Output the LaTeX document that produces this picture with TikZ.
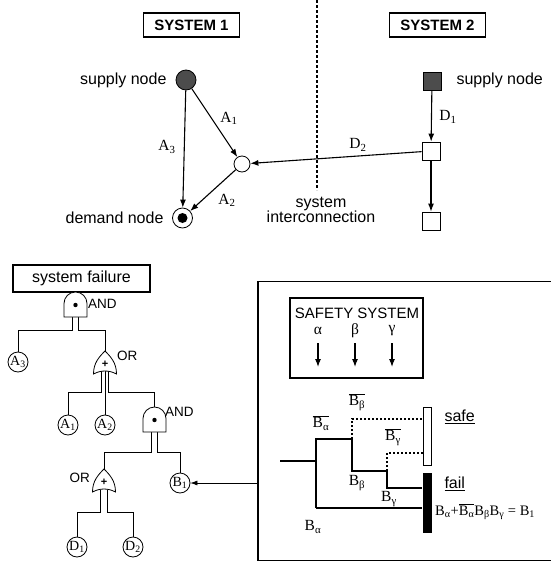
\documentclass[tikz,border=0pt]{standalone}
\usepackage{fontspec}
\setmainfont{Liberation Sans}
\newfontfamily\timesfont{Liberation Serif}
\usetikzlibrary{positioning,arrows.meta}

\newcommand{\lo}[1]{\textsubscript{#1}}
\newcommand{\nt}[1]{$\overline{\mbox{#1}}$}

\tikzset{
  andgate/.pic={
    \draw[thick,fill=white] (-11.5,0) -- (-11.5,-13.5) arc[start angle=180,end angle=360,radius=11.5] -- (11.5,0) -- cycle;
    \fill (0,-12) circle (2.2);
    \coordinate (-top) at (0,-25);
  },
  orgate/.pic={
    \draw[thick,fill=white] (-11.5,0) .. controls (-4,-4) and (4,-4) .. (11.5,0)
      .. controls (11.5,-11) and (6,-17) .. (0,-23)
      .. controls (-6,-17) and (-11.5,-11) .. (-11.5,0) -- cycle;
    \node[font=\bfseries\fontsize{11}{11}\selectfont,inner sep=0] at (0,-10) {+};
    \coordinate (-top) at (0,-23);
  }
}

\begin{document}
\begin{tikzpicture}[x=1pt,y=-1pt,
  txt/.style={font=\fontsize{16}{18}\selectfont},
  sym/.style={font=\timesfont\fontsize{15.5}{17}\selectfont,inner sep=1pt},
  sysbox/.style={draw,line width=1.3pt,minimum width=96pt,minimum height=24pt,inner sep=0pt,font=\fontsize{15}{17}\selectfont\bfseries},
  flow/.style={line width=1.1pt,-{Latex[length=8pt,width=6pt]}},
  wire/.style={thick},
  event/.style={circle,draw,thick,fill=white,minimum size=20pt,inner sep=0pt,font=\timesfont\fontsize{14}{14}\selectfont},
  gatelbl/.style={font=\fontsize{13.5}{14}\selectfont,inner sep=1pt},
  branch/.style={line width=1.5pt},
  dotbranch/.style={line width=1.5pt,dash pattern=on 2pt off 2pt}]
\useasboundingbox (0,0) rectangle (550,565);

% the two systems
\node[sysbox] (sys1) at (191.5,25) {SYSTEM 1};
\node[sysbox] (sys2) at (437.5,25) {SYSTEM 2};
\coordinate (cuttop) at (317,0);
\coordinate (cutbot) at (317,190);
\draw[line width=1.3pt,dash pattern=on 3pt off 2pt] (cuttop) -- (cutbot);
\node[txt,align=center] (inter) at (321,210) {system\\[-3pt]interconnection};

\node[circle,draw,thick,fill=black!70,minimum size=20pt,inner sep=0] (sup1) at (186,80) {};
\node[circle,draw,thick,fill=white,minimum size=16pt,inner sep=0] (mid) at (242,164) {};
\node[circle,draw,thick,fill=white,minimum size=20pt,inner sep=0] (dem) at (182.5,218) {};
\fill (dem) circle (5);
\node[txt,anchor=east] (lsup1) at (170,80) {supply node};
\node[txt,anchor=east] (ldem) at (167,218) {demand node};
\draw[flow] (sup1) -- (dem);
\draw[flow] (sup1) -- (mid);
\draw[flow] (mid) -- (dem);
\node[sym] (la1) at (229,118) {A\lo{1}};
\node[sym] (la3) at (167,147) {A\lo{3}};
\node[sym] (la2) at (227,200) {A\lo{2}};

\node[draw,thick,fill=black!70,minimum size=18pt,inner sep=0] (sup2) at (432,81) {};
\node[draw,thick,fill=white,minimum size=18pt,inner sep=0] (sq2) at (431,151) {};
\node[draw,thick,fill=white,minimum size=18pt,inner sep=0] (sq3) at (431,221) {};
\node[txt,anchor=west] (lsup2) at (453,80) {supply node};
\draw[flow] (sup2) -- (sq2);
\draw[flow] (sq2) -- (sq3);
\draw[flow] (sq2) -- (mid);
\node[sym] (ld1) at (448,117) {D\lo{1}};
\node[sym] (ld2) at (358,145) {D\lo{2}};

% fault tree
\node[draw,line width=1.2pt,minimum width=137pt,minimum height=27pt,inner sep=0,txt] (sysfail) at (81.5,278.5) {system failure};
\node[event] (a3) at (18,362) {A\lo{3}};
\node[event] (a1) at (68,425) {A\lo{1}};
\node[event] (a2) at (105,425) {A\lo{2}};
\node[event] (b1) at (180,483) {B\lo{1}};
\node[event] (d1) at (77,547) {D\lo{1}};
\node[event] (d2) at (133,547) {D\lo{2}};

\draw[wire] (75.5,317) ++(-3,0) -- ++(0,13) -| (a3);
\draw[wire] (75.5,317) ++(3,0) -- ++(0,13) -| (105,351);
\draw[wire] (105,371.4) ++(-3.3,0) -- ++(0,21) -| (a1);
\draw[wire] (105,371) -- (a2);
\draw[wire] (105,371.4) ++(3.3,0) -- ++(0,21) -| (154.5,407);
\draw[wire] (154.5,432) ++(-3,0) -- ++(0,20) -| (104,469);
\draw[wire] (154.5,432) ++(3,0) -- ++(0,20) -| (b1);
\draw[wire] (104,490.4) ++(-3.3,0) -- ++(0,22) -| (d1);
\draw[wire] (104,490.4) ++(3.3,0) -- ++(0,22) -| (d2);

\pic (g1) at (75.5,317) {andgate};
\pic (o1) at (105,374) {orgate};
\pic (g2) at (154.5,432) {andgate};
\pic (o2) at (104,492) {orgate};
\node[gatelbl,anchor=west] (lg1) at (87,304) {AND};
\node[gatelbl,anchor=west] (lo1) at (116,356) {OR};
\node[gatelbl,anchor=west] (lg2) at (164,412) {AND};
\node[gatelbl,anchor=east] (lo2) at (91,478) {OR};

% event tree of the safety system
\node[draw,line width=1.2pt,minimum width=302pt,minimum height=279pt,inner sep=0] (etbox) at (409,421) {};
\draw[semithick,-{Latex[length=7pt,width=5pt]}] (etbox.west |- b1) -- (b1);

\node[draw,line width=1.2pt,minimum width=133pt,minimum height=80pt,inner sep=0] (safety) at (356.5,338) {};
\node[font=\fontsize{15}{17}\selectfont] (stitle) at (357,313) {SAFETY SYSTEM};
\node[sym] (al) at (318,331) {α};
\node[sym] (be) at (355,331) {β};
\node[sym] (ga) at (392,331) {γ};
\draw[flow] (al) ++(0,12) -- ++(0,24);
\draw[flow] (be) ++(0,12) -- ++(0,24);
\draw[flow] (ga) ++(0,12) -- ++(0,24);

\node[draw,thick,fill=white,minimum width=8pt,minimum height=58pt,inner sep=0] (safebar) at (427,436) {};
\node[fill=black,minimum width=9pt,minimum height=60pt,inner sep=0] (failbar) at (427,503) {};

\coordinate (root) at (280,461);
\coordinate (split) at (316,461);
\coordinate (ua) at (316,439);
\coordinate (la) at (316,508);
\coordinate (ub) at (352,439);
\coordinate (sb) at (352,419);
\coordinate (fb) at (352,471);
\coordinate (gc) at (387,471);
\coordinate (sc) at (387,453);
\coordinate (fc) at (387,488);

\draw[branch] (root) -- (split);
\draw[branch] (la) -- (ua) -- (ub) -- (fb) -- (gc) -- (fc) -- (fc -| failbar.west);
\draw[branch] (la) -- (la -| failbar.west);
\draw[dotbranch] (ub) -- (sb) -- (sb -| safebar.west);
\draw[dotbranch] (gc) -- (sc) -- (sc -| safebar.west);

\node[sym] (nba) at (321,423) {\nt{B\lo{α}}};
\node[sym] (nbb) at (357,402) {\nt{B\lo{β}}};
\node[sym] (nbg) at (393,437) {\nt{B\lo{γ}}};
\node[sym] (bb) at (357,483) {B\lo{β}};
\node[sym] (bg) at (389,499) {B\lo{γ}};
\node[sym] (ba) at (313,527) {B\lo{α}};
\node[txt,anchor=west] (lsafe) at (441,417) {\underline{safe}};
\node[txt,anchor=west] (lfail) at (441,484) {\underline{fail}};
\node[sym,anchor=west,font=\timesfont\fontsize{14.5}{16}\selectfont] (eq) at (434,512) {B\lo{α}+\nt{B\lo{α}}B\lo{β}B\lo{γ} = B\lo{1}};

\end{tikzpicture}
\end{document}
